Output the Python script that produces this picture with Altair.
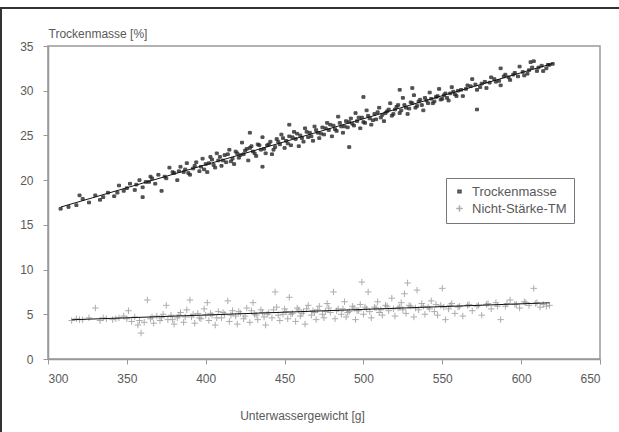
import altair as alt
import pandas as pd

# Trockenmasse (dry matter, %) vs Unterwassergewicht (g)
tm_x = [308, 313, 318, 320, 322, 326, 330, 333, 338, 342, 345, 348, 352, 355, 358, 360, 360, 362, 365, 368,
        370, 372, 375, 377, 380, 382, 384, 386, 388, 390, 392, 394, 396, 398, 400, 401, 403, 405, 407, 408,
        410, 412, 413, 415, 417, 418, 420, 421, 423, 424, 426, 427, 428, 429, 430, 432, 433, 435, 436, 436,
        438, 439, 441, 442, 444, 445, 447, 448, 450, 451, 453, 453, 454, 456, 457, 459, 460, 462, 463, 465,
        466, 468, 469, 471, 472, 474, 475, 477, 478, 480, 481, 483, 484, 486, 487, 489, 490, 491, 492, 493,
        495, 496, 498, 499, 500, 501, 502, 504, 505, 507, 508, 510, 512, 513, 515, 517, 518, 520, 522, 523,
        523, 525, 527, 528, 530, 531, 532, 534, 536, 538, 540, 542, 544, 546, 548, 550, 552, 554, 556, 558,
        560, 563, 566, 569, 572, 572, 575, 578, 581, 584, 587, 587, 590, 593, 596, 599, 602, 605, 606, 608,
        611, 614, 617, 620]
tm_y = [16.8, 17.0, 17.2, 18.3, 17.9, 17.5, 18.3, 17.8, 18.6, 18.2, 19.4, 18.8, 19.6, 18.9, 20.0, 19.2, 18.1, 19.8, 20.4, 19.6,
        20.6, 18.8, 20.2, 21.4, 20.8, 20.0, 21.5, 20.9, 21.9, 20.6, 21.3, 22.0, 21.0, 22.4, 21.8, 20.9, 22.6, 21.7, 23.0, 22.2,
        21.6, 22.8, 22.0, 23.4, 22.4, 21.8, 23.0, 22.5, 24.2, 22.9, 23.5, 22.2, 25.3, 23.8, 23.2, 22.7, 24.0, 23.4, 24.8, 21.5,
        23.0, 23.9, 24.3, 22.9, 23.7, 24.6, 24.0, 25.1, 23.6, 24.4, 24.9, 26.2, 23.9, 25.4, 24.6, 23.8, 25.0, 24.3, 25.8, 24.8,
        25.3, 24.4, 26.0, 25.3, 24.7, 25.9, 25.1, 26.4, 25.6, 24.9, 26.1, 25.5, 27.1, 26.0, 25.3, 26.6, 25.9, 23.7, 26.9, 26.3,
        27.5, 26.6, 25.8, 27.0, 29.3, 26.4, 27.8, 26.9, 26.2, 27.4, 26.8, 28.1, 27.3, 26.6, 27.7, 28.6, 27.2, 27.9, 28.4, 27.5,
        30.1, 29.2, 28.1, 27.4, 28.7, 30.3, 29.5, 28.3, 29.0, 27.8, 28.9, 29.8, 28.6, 29.3, 30.2, 29.1, 29.7, 28.9, 30.4, 29.6,
        30.0, 29.4, 30.6, 31.3, 30.1, 27.9, 30.8, 30.3, 31.5, 31.0, 30.6, 32.5, 31.8, 31.2, 32.0, 32.7, 31.7, 32.3, 33.2, 33.3,
        32.6, 32.2, 32.9, 33.0]
tm_x2 = [335, 344, 350, 356, 364, 366, 374, 379, 383, 387, 389, 393, 397, 399,
         402, 404, 406, 409, 411, 414, 416, 419, 422, 425, 428, 431, 434, 437, 440, 443, 446, 449, 452, 455,
         458, 461, 464, 467, 470, 473, 476, 479, 482, 485, 488, 491, 494, 497, 500, 503, 506, 509, 511, 514,
         516, 519, 521, 524, 526, 529, 531, 533, 535, 537, 539, 541, 543, 545, 547, 549, 551, 553, 555, 557,
         559, 562, 565, 568, 571, 574, 577, 580, 583, 586, 589, 592, 595, 598, 601, 604, 607, 610, 613, 616, 618]
tm_y2 = [18.1, 18.6, 19.1, 19.5, 19.8, 20.2, 20.4, 20.9, 21.0, 21.2, 20.8, 21.6, 21.5, 21.2,
         21.9, 22.3, 21.4, 22.6, 22.2, 22.9, 22.1, 23.2, 22.8, 23.3, 23.6, 23.0, 23.9, 23.5, 24.0, 23.4, 24.3, 24.7, 24.1, 24.8,
         25.2, 24.7, 25.4, 24.9, 25.6, 25.2, 25.8, 26.2, 25.7, 26.4, 26.0, 26.5, 26.1, 27.0, 26.5, 27.2, 26.7, 27.6, 27.0, 27.5,
         27.9, 27.4, 28.2, 27.8, 28.4, 28.0, 28.6, 28.1, 28.8, 28.4, 29.2, 28.6, 29.1, 28.8, 29.4, 29.0, 29.5, 29.2, 29.7, 29.9,
         29.4, 30.1, 30.2, 30.5, 30.7, 30.4, 31.0, 30.9, 31.3, 31.1, 31.6, 31.5, 31.8, 31.6, 32.1, 31.9, 32.6, 32.2, 32.8, 32.5, 32.9]

# Nicht-Stärke-TM (non-starch dry matter, %)
ns_x = [315, 318, 322, 326, 330, 333, 337, 341, 345, 348, 351, 353, 355, 357, 359, 361, 363, 365, 367, 369,
        371, 373, 375, 376, 378, 380, 382, 384, 386, 388, 390, 391, 393, 395, 397, 399, 401, 402, 404, 406,
        408, 410, 412, 414, 415, 417, 419, 420, 422, 424, 426, 428, 430, 431, 433, 435, 437, 438, 440, 442,
        444, 445, 447, 449, 450, 452, 453, 455, 457, 458, 460, 462, 463, 465, 467, 468, 470, 472, 474, 475,
        477, 479, 481, 482, 484, 486, 488, 489, 491, 493, 495, 496, 498, 499, 500, 502, 503, 505, 507, 509,
        510, 512, 514, 516, 518, 520, 522, 524, 526, 527, 528, 530, 532, 534, 535, 537, 539, 541, 543, 545,
        547, 549, 550, 552, 554, 556, 558, 560, 563, 566, 569, 572, 575, 578, 581, 584, 587, 590, 593, 596,
        599, 602, 605, 608, 610, 612, 616]
ns_y = [4.3, 4.5, 4.4, 4.6, 5.7, 4.3, 4.5, 4.4, 4.6, 4.8, 5.4, 4.2, 4.7, 3.8, 2.9, 4.1, 6.6, 4.5, 4.0, 4.8,
        4.3, 5.0, 6.0, 4.4, 4.9, 3.9, 4.6, 5.2, 4.1, 5.5, 6.6, 4.7, 4.0, 5.1, 4.5, 5.6, 6.3, 4.3, 4.9, 3.8,
        5.3, 4.6, 5.0, 6.5, 4.2, 5.4, 4.8, 3.9, 5.1, 4.5, 5.7, 4.1, 6.3, 5.0, 4.4, 5.5, 4.7, 3.8, 5.2, 4.6,
        7.5, 5.8, 4.3, 5.0, 5.6, 4.5, 6.9, 5.1, 4.2, 5.7, 4.8, 5.3, 3.9, 6.0, 4.9, 5.4, 4.4, 5.9, 5.0, 4.6,
        6.2, 5.2, 7.5, 4.5, 5.6, 5.0, 6.4, 4.7, 5.3, 5.9, 4.4, 5.4, 6.1, 8.6, 5.0, 5.6, 7.5, 4.6, 5.8, 6.4,
        5.2, 4.9, 6.0, 5.4, 6.8, 4.8, 5.7, 6.3, 7.3, 5.1, 8.5, 5.9, 4.7, 7.7, 5.5, 6.2, 5.0, 5.8, 6.5, 5.3,
        4.9, 6.0, 7.9, 4.4, 5.6, 6.2, 5.1, 5.8, 4.8, 6.0, 5.4, 5.9, 4.9, 6.1, 5.6, 6.3, 4.4, 5.9, 6.6, 6.1,
        5.7, 6.4, 6.0, 7.9, 6.3, 5.8, 5.9]
ns_x2 = [320, 335, 343, 350, 358, 366, 372, 379, 383, 387, 392, 396, 400, 403, 407, 411, 416, 421, 425, 429,
         432, 436, 439, 443, 446, 451, 454, 459, 461, 464, 469, 471, 476, 478, 483, 487, 490, 494, 497, 501,
         504, 508, 511, 515, 519, 523, 525, 529, 533, 538, 542, 546, 551, 555, 561, 567, 573, 579, 585, 591,
         597, 603, 609, 614, 618]
ns_y2 = [4.4, 4.6, 4.5, 4.5, 4.3, 4.7, 4.6, 4.4, 4.9, 4.7, 5.0, 4.6, 4.9, 5.1, 4.6, 5.2, 4.9, 5.3, 4.8, 5.4,
         4.9, 5.2, 5.0, 5.5, 4.9, 5.3, 5.0, 5.5, 5.1, 5.6, 5.2, 5.5, 5.3, 5.7, 5.4, 5.6, 5.2, 5.7, 5.4, 5.8,
         5.3, 5.7, 5.5, 5.9, 5.6, 5.8, 5.5, 6.0, 5.7, 5.9, 5.6, 6.1, 5.8, 6.0, 5.9, 6.1, 6.0, 6.2, 5.9, 6.2,
         6.1, 6.3, 6.2, 6.1, 6.0]

series_names = ["Trockenmasse", "Nicht-Stärke-TM"]
x_ticks = [300, 350, 400, 450, 500, 550, 600, 650]
y_ticks = [0, 5, 10, 15, 20, 25, 30, 35]

df = pd.concat([
    pd.DataFrame({"x": tm_x + tm_x2, "y": tm_y + tm_y2, "series": series_names[0]}),
    pd.DataFrame({"x": ns_x + ns_x2, "y": ns_y + ns_y2, "series": series_names[1]}),
])

FONT = "Liberation Sans"
GRAY = "#595959"

x_enc = alt.X("x:Q", scale=alt.Scale(domain=[300, 650], nice=False),
              axis=alt.Axis(values=x_ticks, title="Unterwassergewicht [g]", grid=False,
                            titleX=254, titleY=56, titleAnchor=None, titleAlign="center",
                            titleBaseline="middle", labelPadding=9, tickSize=5))
y_enc = alt.Y("y:Q", scale=alt.Scale(domain=[0, 35], nice=False),
              axis=alt.Axis(values=y_ticks, title="Trockenmasse [%]", grid=False,
                            titleAngle=0, titleX=0, titleY=-13, titleAlign="left",
                            titleBaseline="middle", labelPadding=10, tickSize=5))

points = alt.Chart(df).mark_point(strokeWidth=1, opacity=0.8).encode(
    x=x_enc,
    y=y_enc,
    color=alt.Color("series:N",
                    scale=alt.Scale(domain=series_names, range=["#262626", "#999999"]),
                    legend=alt.Legend(title=None, orient="none", legendX=398, legendY=132,
                                      fillColor="white", strokeColor="#777777", padding=7,
                                      labelFontSize=13, labelFont=FONT, labelColor=GRAY,
                                      symbolSize=40, rowPadding=3, labelOffset=6)),
    shape=alt.Shape("series:N",
                    scale=alt.Scale(domain=series_names,
                                    range=["M-0.8,-0.7H0.8V0.7H-0.8Z",
                                           "M-1,0H1M0,-1V1"]),
                    legend=None),
    fill=alt.Fill("series:N",
                  scale=alt.Scale(domain=series_names, range=["#262626", "transparent"]),
                  legend=None),
    size=alt.Size("series:N",
                  scale=alt.Scale(domain=series_names, range=[14, 42]),
                  legend=None),
)

trend = alt.Chart(df).transform_regression(
    "x", "y", groupby=["series"]
).mark_line(color="#111111", strokeWidth=1).encode(
    x="x:Q", y="y:Q", detail="series:N"
)

frame_top = alt.Chart(pd.DataFrame({"a": [0]})).mark_rule(color="#333333", strokeWidth=2).encode(
    x=alt.value(-48), x2=alt.value(571), y=alt.value(-38))
frame_left = alt.Chart(pd.DataFrame({"a": [0]})).mark_rule(color="#333333", strokeWidth=2).encode(
    x=alt.value(-47), y=alt.value(-38), y2=alt.value(386))

chart = alt.layer(points, trend, frame_top, frame_left).properties(
    width=552, height=313,
    autosize=alt.AutoSizeParams(type="none"),
    padding={"left": 48, "top": 46, "right": 19, "bottom": 73},
    background="white",
).configure_view(
    stroke="#999999", strokeWidth=1.5
).configure_axis(
    domainColor="#999999", tickColor="#999999", domainWidth=1.5,
    labelFont=FONT, labelFontSize=12, labelColor=GRAY,
    titleFont=FONT, titleFontSize=12, titleColor=GRAY, titleFontWeight="normal",
)

chart.save("out.html", embed_options={"renderer": "svg", "actions": False})
